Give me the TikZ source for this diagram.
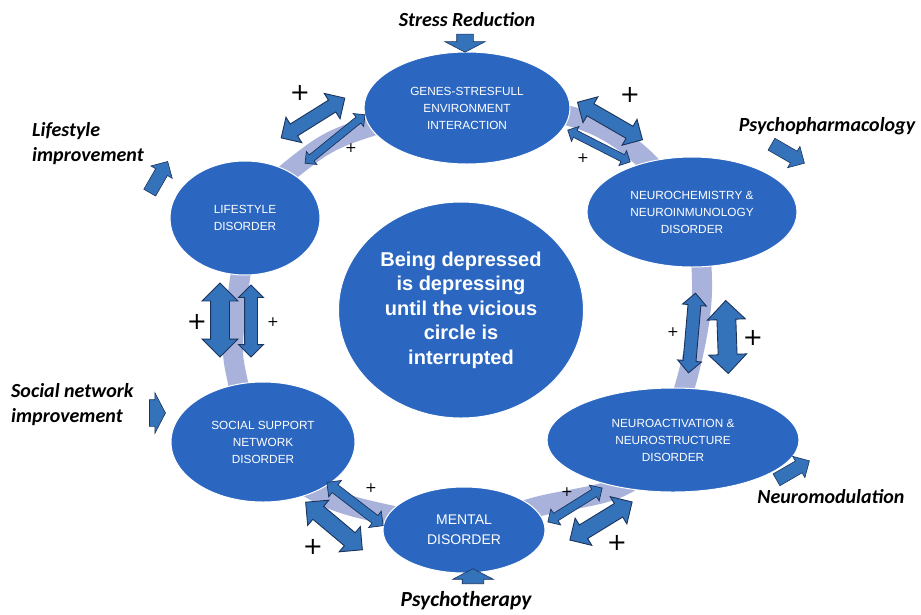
\documentclass[tikz,border=0pt]{standalone}
\usepackage{fontspec}
\setmainfont{Liberation Sans}
\newfontfamily\labfont{Carlito}
\newfontfamily\plusfont{DejaVu Sans}
\usetikzlibrary{shapes.geometric,shapes.arrows}
\definecolor{ellfill}{RGB}{43,102,192}
\definecolor{arrfill}{RGB}{52,114,186}
\definecolor{arrline}{RGB}{28,52,92}
\definecolor{ringcol}{RGB}{169,178,218}
\begin{document}
\begin{tikzpicture}[x=1pt,y=-1pt,
 ell/.style={ellipse, fill=ellfill, draw=white, line width=1pt, inner sep=0pt, text=white, align=center, font=\fontsize{11.8}{17}\selectfont},
 darr/.style={double arrow, draw=arrline, fill=arrfill, line width=0.9pt, inner xsep=0pt, double arrow tip angle=90},
 dsz/.style 2 args={inner ysep=#1*0.5pt, double arrow head extend=(#2-#1)*0.5pt},
 sarr/.style={single arrow, draw=arrline, fill=arrfill, line width=0.6pt, inner xsep=0pt, single arrow tip angle=90},
 ssz/.style 2 args={inner ysep=#1*0.5pt, single arrow head extend=(#2-#1)*0.5pt},
 lab/.style={font=\labfont\bfseries\itshape\fontsize{20}{25}\selectfont, align=left, inner sep=0pt},
 bigplus/.style={font=\plusfont\fontsize{24}{24}\selectfont, inner sep=0pt},
 smallplus/.style={font=\plusfont\fontsize{14}{14}\selectfont, inner sep=0pt},
]
\useasboundingbox (0,0) rectangle (921,614);
\fill[white] (0,0) rectangle (921,614);

% ring band
\draw[ringcol, line width=20pt] plot[smooth cycle, tension=0.6] coordinates {
 (234,330) (255,215) (310,155) (372,126) (467,105) (573,117) (640,155)
 (690,220) (702,290) (688,375) (660,450) (620,487) (540,506) (467,525)
 (380,513) (313,490) (255,440) (238,383)};

% ellipses
\node[ell, minimum width=206pt, minimum height=112pt] (genes) at (467,108) {GENES-STRESFULL\\ENVIRONMENT\\INTERACTION};
\node[ell, minimum width=210pt, minimum height=110pt] (neurochem) at (692,212) {NEUROCHEMISTRY \&\\NEUROINMUNOLOGY\\DISORDER};
\node[ell, minimum width=150pt, minimum height=114pt] (lifestyle) at (245,218) {LIFESTYLE\\DISORDER};
\node[ell, minimum width=245pt, minimum height=216pt, font=\bfseries\fontsize{20}{24.5}\selectfont] (center) at (461,310) {Being depressed\\is depressing\\until the vicious\\circle is\\interrupted};
\node[ell, minimum width=184pt, minimum height=120pt] (social) at (263,442) {SOCIAL SUPPORT\\NETWORK\\DISORDER};
\node[ell, minimum width=252pt, minimum height=104pt] (neuroact) at (673,440) {NEUROACTIVATION \&\\NEUROSTRUCTURE\\DISORDER};
\node[ell, minimum width=162pt, minimum height=86pt, font=\fontsize{14}{20}\selectfont] (mental) at (464,530) {MENTAL\\DISORDER};

% double arrows between ellipses
\node[darr, dsz={13}{29}, minimum height=75pt, rotate=32] (tlbig) at (313,118) {};
\node[darr, dsz={7}{16}, minimum height=77pt, rotate=39, line width=0.7pt] (tlsmall) at (335,139) {};
\node[darr, dsz={13}{29}, minimum height=75pt, rotate=-30] (trbig) at (610,121) {};
\node[darr, dsz={7}{16}, minimum height=70pt, rotate=-27, line width=0.7pt] (trsmall) at (599,146) {};
\node[darr, dsz={12}{23}, minimum height=80pt, rotate=85] (rsmall) at (692,333) {};
\node[darr, dsz={18}{37}, minimum height=73pt, rotate=92] (rbig) at (727,337) {};
\node[darr, dsz={18}{35}, minimum height=74pt, rotate=90] (lbig) at (220,320) {};
\node[darr, dsz={12}{24}, minimum height=72pt, rotate=90] (lsmall) at (251,321) {};
\node[darr, dsz={16}{32}, minimum height=74pt, rotate=-40] (blbig) at (334,526) {};
\node[darr, dsz={9}{20}, minimum height=71pt, rotate=-37.5, line width=0.7pt] (blsmall) at (355,504) {};
\node[darr, dsz={8}{18}, minimum height=64pt, rotate=32, line width=0.7pt] (brsmall) at (575,505) {};
\node[darr, dsz={15}{31}, minimum height=73pt, rotate=31.5] (brbig) at (601,521) {};

% plus signs
\node[bigplus] (p1) at (300,93) {+};
\node[smallplus] (p2) at (351,148) {+};
\node[bigplus] (p3) at (630,95) {+};
\node[smallplus] (p4) at (583,158) {+};
\node[smallplus] (p5) at (673,332) {+};
\node[bigplus] (p6) at (753,338) {+};
\node[bigplus] (p7) at (197,322) {+};
\node[smallplus] (p8) at (273,322) {+};
\node[bigplus] (p9) at (313,547) {+};
\node[smallplus] (p10) at (371,488) {+};
\node[smallplus] (p11) at (567,492) {+};
\node[bigplus] (p12) at (617,543) {+};

% intervention arrows
\node[sarr, ssz={16}{40}, minimum height=18pt, single arrow tip angle=125, rotate=-90] (stressarr) at (465,41) {};
\node[sarr, ssz={13}{24}, minimum height=38pt, rotate=-30] (pharmarr) at (785,152) {};
\node[sarr, ssz={13}{24}, minimum height=36pt, rotate=60] (lifearr) at (157,180) {};
\node[sarr, ssz={26}{40}, minimum height=16pt, single arrow tip angle=125] (socarr) at (154,413) {};
\node[sarr, ssz={21}{40}, minimum height=15pt, single arrow tip angle=125, rotate=90] (psyarr) at (473,579) {};
\node[sarr, ssz={13}{24}, minimum height=38pt, rotate=30] (modarr) at (790,472) {};

% labels
\node[lab] (stress) at (467,20) {Stress Reduction};
\node[lab] (pharm) at (827,126) {Psychopharmacology};
\node[lab, anchor=west] (life) at (32,144) {Lifestyle\\improvement};
\node[lab, anchor=west] (socnet) at (11,405) {Social network\\improvement};
\node[lab] (neuromod) at (831,497) {Neuromodulation};
\node[lab, font=\labfont\bfseries\itshape\fontsize{21.5}{26}\selectfont] (psycho) at (466,601) {Psychotherapy};
\end{tikzpicture}
\end{document}
